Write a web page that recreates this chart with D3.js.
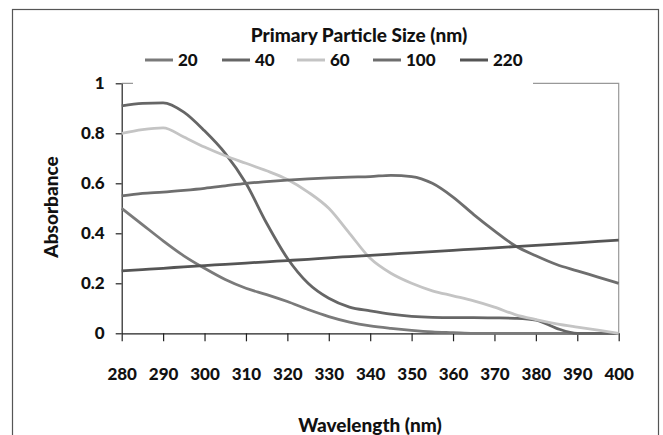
<!DOCTYPE html>
<html>
<head>
<meta charset="utf-8">
<script src="https://cdn.jsdelivr.net/npm/d3@7"></script>
<style>
  body { margin: 0; background: #fff; }
  svg text { font-family: Lato, "Open Sans", sans-serif; font-weight: 900; fill: #111; }
</style>
</head>
<body>
<div class="container"></div>
<script>
// wavelengths (nm) and absorbance for each primary particle size
const wavelengths = [280, 285, 290, 295, 300, 305, 310, 315, 320, 325, 330, 335, 340, 345, 350, 355, 360, 365, 370, 375, 380, 385, 390, 395, 400];
const size20  = [0.50, 0.435, 0.37, 0.31, 0.26, 0.215, 0.18, 0.155, 0.127, 0.095, 0.067, 0.045, 0.03, 0.02, 0.012, 0.006, 0.003, 0.0, 0.0, 0.0, 0.0, 0.0, 0.0, 0.0, 0.0];
const size40  = [0.91, 0.92, 0.922, 0.885, 0.81, 0.72, 0.60, 0.44, 0.30, 0.20, 0.14, 0.105, 0.09, 0.077, 0.068, 0.064, 0.063, 0.063, 0.062, 0.06, 0.053, 0.02, 0.0, 0.0, 0.0];
const size60  = [0.80, 0.815, 0.822, 0.785, 0.745, 0.71, 0.68, 0.65, 0.615, 0.565, 0.50, 0.40, 0.30, 0.24, 0.20, 0.17, 0.15, 0.13, 0.105, 0.075, 0.055, 0.038, 0.025, 0.013, 0.0];
const size100 = [0.55, 0.56, 0.565, 0.572, 0.58, 0.59, 0.60, 0.607, 0.613, 0.618, 0.622, 0.625, 0.627, 0.632, 0.627, 0.60, 0.545, 0.475, 0.41, 0.35, 0.31, 0.275, 0.25, 0.225, 0.20];
const size220 = [0.250, 0.255, 0.260, 0.266, 0.271, 0.276, 0.281, 0.286, 0.291, 0.296, 0.302, 0.307, 0.312, 0.317, 0.322, 0.327, 0.332, 0.337, 0.342, 0.347, 0.352, 0.357, 0.362, 0.368, 0.373];

const seriesNames = ['20', '40', '60', '100', '220'];
const seriesColors = ['#7a7a7a', '#666666', '#c4c4c4', '#6e6e6e', '#555555'];
const xTicks = [280, 290, 300, 310, 320, 330, 340, 350, 360, 370, 380, 390, 400];
const yTicks = [0, 0.2, 0.4, 0.6, 0.8, 1];

const allSeries = [size20, size40, size60, size100, size220];

const width = 663, height = 435;
const plotLeft = 121.7, plotRight = 618.7, plotTop = 83.3, plotBottom = 333.3;

const svg = d3.select('.container')
  .append('svg')
  .attr('width', width)
  .attr('height', height);

// outer frame
svg.append('rect')
  .attr('x', 12.5).attr('y', 9.5)
  .attr('width', 646).attr('height', 440)
  .attr('fill', 'none')
  .attr('stroke', '#555')
  .attr('stroke-width', 1.2);

const x = d3.scaleLinear().domain([280, 400]).range([plotLeft, plotRight]);
const y = d3.scaleLinear().domain([0, 1]).range([plotBottom, plotTop]);

// plot area border (top & right)
svg.append('path')
  .attr('d', `M${plotLeft},${plotTop}H${plotRight}V${plotBottom}`)
  .attr('fill', 'none')
  .attr('stroke', '#999')
  .attr('stroke-width', 1.2);

const xAxis = d3.axisBottom(x).tickValues(xTicks).tickSize(8).tickPadding(27).tickSizeOuter(0);
const yAxis = d3.axisLeft(y).tickValues(yTicks).tickSize(6).tickPadding(11).tickSizeOuter(0)
  .tickFormat(d => d === 0 || d === 1 ? d3.format('d')(d) : d3.format('.1f')(d));

const gx = svg.append('g')
  .attr('transform', `translate(0,${plotBottom})`)
  .call(xAxis);
const gy = svg.append('g')
  .attr('transform', `translate(${plotLeft},0)`)
  .call(yAxis);

[gx, gy].forEach(g => {
  g.selectAll('path, line').attr('stroke', '#222').attr('stroke-width', 1.2);
  g.selectAll('text').style('font-size', '17px');
});

// lines
const line = d3.line()
  .x((d, i) => x(wavelengths[i]))
  .y(d => y(d))
  .curve(d3.curveMonotoneX);

svg.append('g').selectAll('path')
  .data(allSeries)
  .enter()
  .append('path')
  .attr('d', line)
  .attr('fill', 'none')
  .attr('stroke', (d, i) => seriesColors[i])
  .attr('stroke-width', 2.8)
  .attr('stroke-linejoin', 'round');

// legend
const legend = svg.append('g');
legend.append('rect')
  .attr('x', 133).attr('y', 16)
  .attr('width', 400).attr('height', 69)
  .attr('fill', '#fff');

legend.append('text')
  .attr('x', 359).attr('y', 42)
  .attr('text-anchor', 'middle')
  .style('font-size', '19px')
  .text('Primary Particle Size (nm)');

const legendX = [145, 222, 297, 373, 460];
const entries = legend.selectAll('.entry')
  .data(seriesNames)
  .enter()
  .append('g')
  .attr('class', 'entry')
  .attr('transform', (d, i) => `translate(${legendX[i]},60)`);

entries.append('line')
  .attr('x1', 0).attr('x2', 28)
  .attr('stroke', (d, i) => seriesColors[i])
  .attr('stroke-width', 3);

entries.append('text')
  .attr('x', 33).attr('dy', '0.36em')
  .style('font-size', '17px')
  .text(d => d);

// axis titles
svg.append('text')
  .attr('x', 370).attr('y', 432)
  .attr('text-anchor', 'middle')
  .style('font-size', '19px')
  .text('Wavelength (nm)');

svg.append('text')
  .attr('transform', 'translate(58,207) rotate(-90)')
  .attr('text-anchor', 'middle')
  .style('font-size', '19px')
  .text('Absorbance');
</script>
</body>
</html>
